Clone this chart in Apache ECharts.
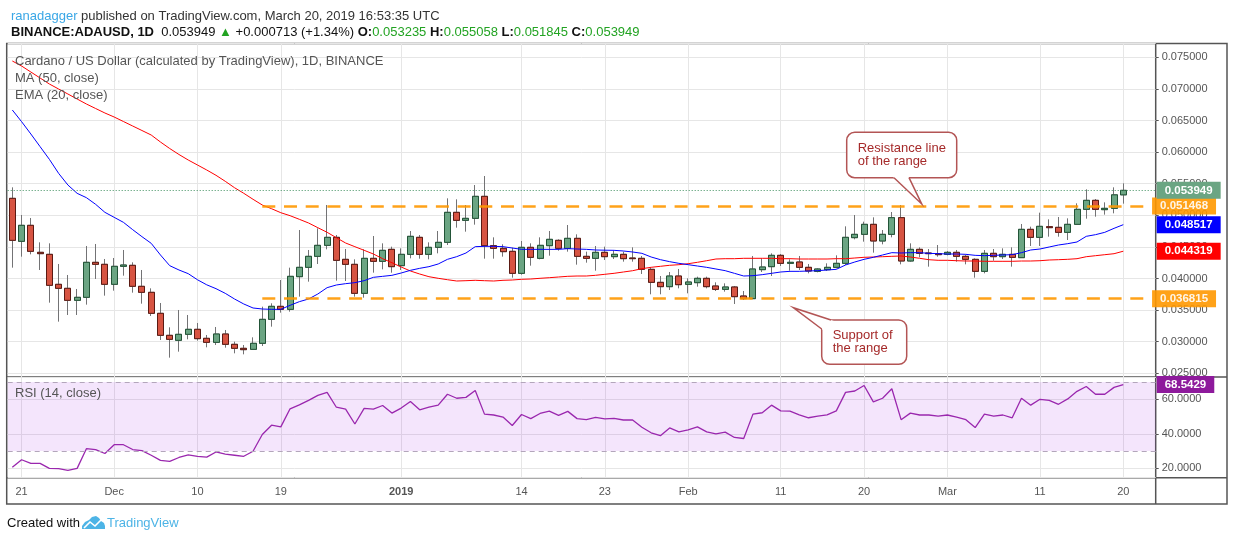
<!DOCTYPE html>
<html>
<head>
<meta charset="utf-8">
<script src="https://cdn.jsdelivr.net/npm/echarts@6.0.0/dist/echarts.min.js"></script>
<style>
html, body { margin: 0; padding: 0; background: #fff; }
#chart { width: 1234px; height: 541px; }
</style>
</head>
<body>
<div id="chart"></div>
<script>
// ADA/USD daily, 2018-11-20 .. 2019-03-20
var openP = [0.052685,0.045884,0.048414,0.044142,0.043825,0.039079,0.038446,0.036547,0.037022,0.042560,
  0.042243,0.039079,0.041927,0.042085,0.038762,0.037813,0.034490,0.031010,0.030218,0.031168,
  0.031959,0.030534,0.029901,0.031220,0.029585,0.028952,0.028793,0.029743,0.033540,0.035597,
  0.035122,0.040291,0.041768,0.043508,0.045248,0.046514,0.043033,0.042242,0.037654,0.043191,
  0.042717,0.044615,0.042031,0.043824,0.046514,0.043824,0.044932,0.045723,0.050470,0.049204,
  0.049520,0.053001,0.045196,0.044774,0.044299,0.040818,0.044932,0.043191,0.045196,0.046039,
  0.044774,0.046356,0.043508,0.043191,0.044141,0.043455,0.043824,0.043244,0.043191,0.041451,
  0.039394,0.038709,0.040396,0.039078,0.039341,0.040027,0.038814,0.038287,0.038656,0.037232,
  0.036810,0.041398,0.041873,0.043666,0.042401,0.042612,0.041768,0.041135,0.041398,0.041768,
  0.042401,0.046461,0.046989,0.048571,0.045934,0.046989,0.049626,0.042770,0.044615,0.044035,
  0.043930,0.043824,0.044141,0.043508,0.043033,0.041135,0.043983,0.043455,0.043824,0.043297,
  0.047780,0.046514,0.048202,0.048097,0.047305,0.048571,0.050944,0.052368,0.050892,0.051102,
  0.053235];
var highP = [0.054425,0.050049,0.049574,0.045724,0.045566,0.042296,0.040555,0.038340,0.045144,0.045460,
  0.043087,0.043245,0.044511,0.042560,0.041347,0.038446,0.036125,0.032275,0.035018,0.034227,
  0.032961,0.031062,0.032327,0.031852,0.030006,0.029479,0.030692,0.035544,0.036072,0.039763,
  0.041715,0.047674,0.044510,0.047938,0.051630,0.046883,0.044668,0.043033,0.044615,0.046725,
  0.045565,0.045037,0.044774,0.047516,0.046883,0.045723,0.047516,0.052685,0.052526,0.051630,
  0.054794,0.056218,0.046514,0.045407,0.044879,0.045934,0.045565,0.046514,0.047516,0.046198,
  0.048465,0.046989,0.044246,0.045143,0.045037,0.044405,0.044246,0.044932,0.043561,0.041768,
  0.040396,0.041029,0.041504,0.040027,0.040290,0.040290,0.039394,0.039236,0.038814,0.038023,
  0.043561,0.043191,0.043983,0.043877,0.043033,0.043561,0.042295,0.041609,0.042401,0.043666,
  0.048255,0.050048,0.048993,0.049679,0.047674,0.050522,0.051630,0.045565,0.044932,0.044668,
  0.045301,0.044352,0.044510,0.043719,0.043191,0.044510,0.044668,0.044774,0.044932,0.048624,
  0.048202,0.050417,0.049362,0.049731,0.049520,0.051894,0.054109,0.052579,0.052052,0.054425,
  0.055058];
var lowP = [0.041714,0.043456,0.043825,0.041347,0.036178,0.033172,0.034227,0.034227,0.035862,0.039923,
  0.037286,0.038077,0.040450,0.037760,0.036020,0.034068,0.030271,0.027476,0.028425,0.030377,
  0.030166,0.029111,0.029479,0.029057,0.028161,0.028002,0.028688,0.029321,0.032380,0.034595,
  0.034753,0.037126,0.039500,0.042295,0.044615,0.039658,0.039605,0.037126,0.036968,0.040924,
  0.041451,0.040924,0.041346,0.043191,0.043139,0.043033,0.043983,0.045301,0.048044,0.047411,
  0.048518,0.043139,0.043139,0.043455,0.040132,0.040600,0.042031,0.043033,0.043613,0.044405,
  0.044246,0.042189,0.042506,0.041240,0.042928,0.043086,0.042664,0.042664,0.040713,0.037496,
  0.037496,0.038181,0.038445,0.037654,0.038709,0.038445,0.038023,0.037918,0.035966,0.036599,
  0.036810,0.041029,0.040396,0.041978,0.041240,0.041346,0.040818,0.040976,0.041188,0.041609,
  0.042137,0.046198,0.045828,0.044088,0.045407,0.046514,0.042242,0.042664,0.043350,0.041873,
  0.043455,0.043666,0.042664,0.042242,0.040132,0.040818,0.042823,0.043086,0.041873,0.043297,
  0.045143,0.045143,0.046619,0.046619,0.046092,0.048465,0.049467,0.049784,0.050101,0.050312,
  0.051845];
var closeP = [0.046039,0.048414,0.044300,0.043931,0.038921,0.038446,0.036547,0.037022,0.042560,0.042243,
  0.039079,0.041927,0.042138,0.038762,0.037813,0.034490,0.031010,0.030377,0.031168,0.031959,
  0.030482,0.029901,0.031220,0.029585,0.028952,0.028741,0.029743,0.033540,0.035597,0.035122,
  0.040344,0.041768,0.043508,0.045248,0.046514,0.042875,0.042242,0.037654,0.043191,0.042717,
  0.044457,0.041873,0.043824,0.046672,0.043824,0.044932,0.045723,0.050470,0.049204,0.049520,
  0.053001,0.045196,0.044774,0.044246,0.040818,0.044932,0.043350,0.045248,0.046198,0.044774,
  0.046356,0.043508,0.043191,0.044141,0.043455,0.043824,0.043139,0.043139,0.041451,0.039394,
  0.038709,0.040396,0.039025,0.039447,0.040027,0.038709,0.038287,0.038656,0.037126,0.036810,
  0.041504,0.041821,0.043666,0.042401,0.042560,0.041768,0.041188,0.041504,0.041768,0.042401,
  0.046514,0.046989,0.048571,0.045934,0.046989,0.049626,0.042770,0.044615,0.043983,0.043930,
  0.043771,0.044141,0.043508,0.043033,0.041135,0.043983,0.043455,0.043824,0.043350,0.047780,
  0.046514,0.048255,0.048044,0.047305,0.048571,0.050944,0.052368,0.050944,0.051102,0.053236,
  0.053949];
var ma50 = [0.074415,0.073623,0.072674,0.071725,0.070775,0.069984,0.069193,0.068402,0.067611,0.066899,
  0.066187,0.065554,0.064842,0.064130,0.063418,0.062706,0.061598,0.060570,0.059620,0.058750,
  0.057959,0.057168,0.056329,0.055380,0.054367,0.053481,0.052532,0.051630,0.051044,0.050411,
  0.049937,0.049367,0.048782,0.048038,0.047310,0.046456,0.045617,0.045032,0.044462,0.043877,
  0.043133,0.042500,0.041820,0.041187,0.040712,0.040285,0.040032,0.039810,0.039604,0.039652,
  0.039715,0.039652,0.039604,0.039715,0.039763,0.039873,0.039921,0.040032,0.040127,0.040237,
  0.040348,0.040396,0.040396,0.040506,0.040665,0.040823,0.041028,0.041234,0.041551,0.041772,
  0.041930,0.042089,0.042184,0.042342,0.042563,0.042816,0.043085,0.043133,0.043133,0.043196,
  0.043196,0.043196,0.043196,0.043133,0.043133,0.043085,0.043085,0.043085,0.043085,0.043133,
  0.043133,0.043244,0.043354,0.043402,0.043449,0.043513,0.043560,0.043402,0.043196,0.042975,
  0.042880,0.042880,0.042816,0.042769,0.042769,0.042722,0.042722,0.042722,0.042722,0.042769,
  0.042769,0.042816,0.042927,0.042975,0.043038,0.043133,0.043449,0.043608,0.043766,0.043924,
  0.044319];
var ema20 = [0.066662,0.064816,0.062865,0.060860,0.058856,0.056641,0.054795,0.053477,0.052791,0.051736,
  0.050470,0.049679,0.048888,0.047728,0.046620,0.045566,0.043720,0.042032,0.041347,0.040766,
  0.039800,0.039000,0.038392,0.037654,0.036757,0.035966,0.035333,0.035174,0.035122,0.035122,
  0.035755,0.036335,0.036757,0.037548,0.038550,0.038972,0.039183,0.039341,0.039658,0.040185,
  0.040344,0.040502,0.040870,0.041293,0.041609,0.041873,0.042295,0.043033,0.043455,0.044035,
  0.045037,0.045090,0.045090,0.045037,0.044826,0.044615,0.044615,0.044615,0.044615,0.044615,
  0.044721,0.044668,0.044615,0.044510,0.044480,0.044457,0.044352,0.044194,0.043983,0.043403,
  0.042981,0.042664,0.042401,0.042190,0.041978,0.041768,0.041504,0.041240,0.040818,0.040396,
  0.040449,0.040607,0.040818,0.041029,0.041135,0.041135,0.041188,0.041240,0.041346,0.041451,
  0.042137,0.042612,0.043033,0.043350,0.043719,0.044088,0.044035,0.044088,0.044088,0.043983,
  0.043930,0.043877,0.043877,0.043824,0.043666,0.043613,0.043666,0.043719,0.043771,0.044088,
  0.044510,0.044668,0.044985,0.045301,0.045512,0.045776,0.046672,0.046936,0.047305,0.047938,
  0.048517];
var rsi14 = [20.6,25.0,22.9,22.9,20.0,19.8,18.9,20.0,31.4,30.9,
  28.6,33.7,33.7,30.9,30.3,27.6,24.6,24.0,26.3,27.8,
  27.0,26.5,29.5,28.2,27.6,27.0,29.9,39.6,45.0,44.0,
  54.5,56.8,59.4,62.3,64.0,55.4,54.3,45.7,54.7,54.3,
  56.4,52.0,54.9,58.7,53.9,55.4,56.6,62.9,60.6,61.1,
  65.1,51.4,50.9,49.7,44.8,51.2,48.8,51.8,53.1,50.7,
  53.0,48.8,48.2,49.5,48.7,49.0,48.0,48.0,43.8,40.6,
  38.9,43.4,41.1,42.3,44.0,41.1,40.0,41.0,37.9,37.3,
  51.4,52.2,56.6,53.3,53.1,51.0,49.3,50.3,51.0,53.3,
  64.0,64.8,68.0,58.5,60.6,66.1,48.2,52.0,50.9,50.9,
  50.3,50.9,49.7,48.2,43.6,51.4,50.3,50.9,49.3,60.6,
  56.6,60.0,59.4,57.1,60.2,64.6,67.4,62.9,62.9,66.9,
  68.5429];

var tickDates = ['2018-11-21','2018-12-01','2018-12-10','2018-12-19','2019-01-01','2019-01-14',
  '2019-01-23','2019-02-01','2019-02-11','2019-02-20','2019-03-01','2019-03-11','2019-03-20'];
var tickText = ['21','Dec','10','19','2019','14','23','Feb','11','20','Mar','11','20'];

var resistance = 0.051468;
var support = 0.036815;
var lastPrice = 0.053949;

// 121 trading days plus 3 empty days on the right
var dates = [];
for (var i = 0; i < 124; i++) {
  dates.push(new Date(Date.UTC(2018, 10, 20 + i)).toISOString().slice(0, 10));
}

var candleFull = openP.map(function (o, i) { return [o, closeP[i], lowP[i], highP[i]]; });
var candleBody = openP.map(function (o, i) {
  var c = closeP[i];
  return [o, c, Math.min(o, c), Math.max(o, c)];
});

var FONT = '"Liberation Sans", Arial, sans-serif';
var NOLINE = { color: 'rgba(0,0,0,0)', width: 0 };
var isTick = function (idx, val) { return tickDates.indexOf(val) >= 0; };

function tag(bg, text) {
  return {
    show: true, position: 'end', distance: 1, formatter: text,
    backgroundColor: bg, color: '#fff', fontWeight: 'bold', fontSize: 11.5,
    fontFamily: FONT, padding: [3, 8, 2, 8], lineHeight: 12
  };
}

var option = {
  animation: false,
  textStyle: { fontFamily: FONT },
  title: [{
    left: 6, top: 5,
    text: '{u|ranadagger}{t| published on TradingView.com, March 20, 2019 16:53:35 UTC}',
    textStyle: { fontWeight: 'normal', rich: {
      u: { color: '#3aa7e6', fontSize: 13, fontWeight: 'normal', fontFamily: FONT },
      t: { color: '#333', fontSize: 13, fontWeight: 'normal', fontFamily: FONT }
    } }
  }, {
    left: 6, top: 21,
    text: '{b|BINANCE:ADAUSD, 1D}{t|  0.053949 }{g|▲}{t| +0.000713 (+1.34%) }{b|O:}{g|0.053235}{t| }{b|H:}{g|0.055058}{t| }{b|L:}{g|0.051845}{t| }{b|C:}{g|0.053949}',
    textStyle: { fontWeight: 'normal', rich: {
      b: { color: '#111', fontSize: 13, fontWeight: 'bold', fontFamily: FONT },
      t: { color: '#111', fontSize: 13, fontWeight: 'normal', fontFamily: FONT },
      g: { color: '#22a322', fontSize: 13, fontWeight: 'normal', fontFamily: FONT }
    } }
  }],
  grid: [
    { left: 7.7, width: 1148, top: 43.5, height: 333.5 },
    { left: 7.7, width: 1148, top: 377, height: 100.7 }
  ],
  xAxis: [{
    gridIndex: 0, type: 'category', data: dates, boundaryGap: true,
    axisLine: { show: false }, axisTick: { show: false }, axisLabel: { show: false },
    splitLine: { show: true, interval: isTick, alignWithLabel: true, lineStyle: { color: '#e6e6e6' } }
  }, {
    gridIndex: 1, type: 'category', data: dates, boundaryGap: true,
    axisLine: { show: false }, axisTick: { show: false },
    axisLabel: {
      interval: isTick, margin: 9, color: '#555', fontSize: 11,
      formatter: function (v) {
        var t = tickText[tickDates.indexOf(v)];
        return t === '2019' ? '{b|2019}' : t;
      },
      rich: { b: { fontWeight: 'bold', color: '#555', fontSize: 11 } }
    },
    splitLine: { show: true, interval: isTick, alignWithLabel: true, lineStyle: { color: '#e6e6e6' } }
  }],
  yAxis: [{
    gridIndex: 0, position: 'right', scale: true,
    min: 0.024415, max: 0.077184, splitNumber: 10,
    axisLine: { show: false },
    axisTick: { show: true, length: 3, lineStyle: { color: '#555' } },
    axisLabel: {
      margin: 6, color: '#555', fontSize: 11, showMinLabel: false, showMaxLabel: false,
      formatter: function (v) { return v.toFixed(6); }
    },
    splitLine: { lineStyle: { color: '#e6e6e6' } }
  }, {
    gridIndex: 1, position: 'right',
    min: 14.6, max: 72.9, splitNumber: 3,
    axisLine: { show: false },
    axisTick: { show: true, length: 3, lineStyle: { color: '#555' } },
    axisLabel: {
      margin: 6, color: '#555', fontSize: 11, showMinLabel: false, showMaxLabel: false,
      formatter: function (v) { return v.toFixed(4); }
    },
    splitLine: { lineStyle: { color: '#e6e6e6' } }
  }],
  series: [{
    // wicks (gray)
    name: 'wick', type: 'candlestick', xAxisIndex: 0, yAxisIndex: 0,
    data: candleFull, barWidth: 6.5, silent: true,
    itemStyle: { color: '#737375', color0: '#737375', borderColor: '#737375', borderColor0: '#737375', borderWidth: 1 },
    markLine: {
      silent: true, symbol: ['none', 'none'], precision: 6,
      data: [
        [{ coord: [dates[27], resistance], lineStyle: { color: '#ff9800', type: [13, 8.7], width: 2.6, opacity: 0.9 }, label: tag('#ff9800', resistance.toFixed(6)) },
         { coord: [dates[123], resistance] }],
        [{ coord: [dates[27], support], lineStyle: { color: '#ff9800', type: [13, 8.7], width: 2.6, opacity: 0.9 }, label: tag('#ff9800', support.toFixed(6)) },
         { coord: [dates[123], support] }]
      ]
    }
  }, {
    // bodies
    name: 'body', type: 'candlestick', xAxisIndex: 0, yAxisIndex: 0,
    data: candleBody, barWidth: 6.5, silent: true,
    itemStyle: { color: '#6ba583', color0: '#d75442', borderColor: '#225437', borderColor0: '#5b1a13', borderWidth: 1 }
  }, {
    name: 'MA (50, close)', type: 'line', xAxisIndex: 0, yAxisIndex: 0,
    data: ma50, showSymbol: false, silent: true,
    lineStyle: { color: '#ff0000', width: 1 },
    markLine: {
      silent: true, symbol: ['none', 'none'], precision: 6,
      data: [
        { yAxis: lastPrice, lineStyle: { color: '#3f8f5f', type: [1, 2], width: 1 }, label: tag('#6ba583', lastPrice.toFixed(6)) },
        { yAxis: ma50[ma50.length - 1], lineStyle: NOLINE, label: tag('#ff0000', ma50[ma50.length - 1].toFixed(6)) }
      ]
    }
  }, {
    name: 'EMA (20, close)', type: 'line', xAxisIndex: 0, yAxisIndex: 0,
    data: ema20, showSymbol: false, silent: true,
    lineStyle: { color: '#0000ff', width: 1 },
    markLine: {
      silent: true, symbol: ['none', 'none'], precision: 6,
      data: [{ yAxis: ema20[ema20.length - 1], lineStyle: NOLINE, label: tag('#0000ff', ema20[ema20.length - 1].toFixed(6)) }]
    }
  }, {
    name: 'RSI (14, close)', type: 'line', xAxisIndex: 1, yAxisIndex: 1,
    data: rsi14, showSymbol: false, silent: true,
    lineStyle: { color: '#9a27ae', width: 1.3 },
    markArea: {
      silent: true,
      itemStyle: { color: 'rgba(145, 0, 225, 0.1)' },
      data: [[{ yAxis: 30 }, { yAxis: 70 }]]
    },
    markLine: {
      silent: true, symbol: ['none', 'none'], precision: 4,
      label: { show: false },
      lineStyle: { color: '#b3a6bb', type: [5, 4], width: 1 },
      data: [
        { yAxis: 30 }, { yAxis: 70 },
        { yAxis: rsi14[rsi14.length - 1], lineStyle: NOLINE, label: tag('#8e1a9c', rsi14[rsi14.length - 1].toFixed(4)) }
      ]
    }
  }],
  graphic: [
    // frame
    { type: 'rect', silent: true, shape: { x: 6.7, y: 43.5, width: 1220.3, height: 460.5 }, style: { fill: null, stroke: '#555', lineWidth: 1.5 } },
    { type: 'line', silent: true, shape: { x1: 1155.7, y1: 43.5, x2: 1155.7, y2: 504 }, style: { stroke: '#555', lineWidth: 1.5 } },
    { type: 'line', silent: true, shape: { x1: 6.7, y1: 377, x2: 1227, y2: 377 }, style: { stroke: '#555', lineWidth: 1.5 } },
    { type: 'line', silent: true, shape: { x1: 6.7, y1: 477.7, x2: 1227, y2: 477.7 }, style: { stroke: '#555', lineWidth: 1.5 } },
    // legends
    { type: 'text', x: 15, y: 61, z: 50, style: { text: 'Cardano / US Dollar (calculated by TradingView), 1D, BINANCE', fill: '#555', font: '13px ' + FONT, verticalAlign: 'middle' } },
    { type: 'text', x: 15, y: 78, z: 50, style: { text: 'MA (50, close)', fill: '#555', font: '13px ' + FONT, verticalAlign: 'middle' } },
    { type: 'text', x: 15, y: 95, z: 50, style: { text: 'EMA (20, close)', fill: '#555', font: '13px ' + FONT, verticalAlign: 'middle' } },
    { type: 'text', x: 15, y: 393, z: 50, style: { text: 'RSI (14, close)', fill: '#555', font: '13px ' + FONT, verticalAlign: 'middle' } },
    // resistance callout
    { type: 'rect', z: 60, shape: { x: 846.7, y: 132.3, width: 110, height: 45.4, r: 8 }, style: { fill: '#fff', stroke: '#b35555', lineWidth: 1.5 } },
    { type: 'polygon', z: 61, shape: { points: [[890.8, 174.7], [921.7, 204], [907.6, 174.7]] }, style: { fill: '#fff' } },
    { type: 'polyline', z: 62, shape: { points: [[894, 177.7], [921.7, 204], [909, 177.7]] }, style: { fill: null, stroke: '#b35555', lineWidth: 1.5 } },
    { type: 'text', x: 857.7, y: 148.5, z: 63, style: { text: 'Resistance line', fill: '#a52a2a', font: '13px ' + FONT, verticalAlign: 'middle' } },
    { type: 'text', x: 857.7, y: 161, z: 63, style: { text: 'of the range', fill: '#a52a2a', font: '13px ' + FONT, verticalAlign: 'middle' } },
    // support callout
    { type: 'rect', z: 60, shape: { x: 821.7, y: 320, width: 85, height: 44.3, r: 8 }, style: { fill: '#fff', stroke: '#b35555', lineWidth: 1.5 } },
    { type: 'polygon', z: 61, shape: { points: [[793.3, 307.7], [824.1, 330.8], [833.9, 320.9]] }, style: { fill: '#fff' } },
    { type: 'polyline', z: 62, shape: { points: [[821.7, 329], [793.3, 307.7], [831, 320]] }, style: { fill: null, stroke: '#b35555', lineWidth: 1.5 } },
    { type: 'text', x: 832.7, y: 335.5, z: 63, style: { text: 'Support of', fill: '#a52a2a', font: '13px ' + FONT, verticalAlign: 'middle' } },
    { type: 'text', x: 832.7, y: 348, z: 63, style: { text: 'the range', fill: '#a52a2a', font: '13px ' + FONT, verticalAlign: 'middle' } },
    // footer
    { type: 'text', x: 7, y: 523, style: { text: 'Created with', fill: '#111', font: '13px ' + FONT, verticalAlign: 'middle' } },
    { type: 'polygon', silent: true, shape: { points: [[82, 529], [82, 526], [85, 522], [89, 520], [92, 517], [96, 516], [99, 518], [101, 521], [104, 523], [105, 526], [105, 529]] }, style: { fill: '#4db4e6' } },
    { type: 'polyline', silent: true, shape: { points: [[84, 528], [90, 522], [95, 526], [101, 520]] }, style: { fill: null, stroke: '#fff', lineWidth: 1.6 } },
    { type: 'text', x: 107, y: 523, style: { text: 'TradingView', fill: '#4db4e6', font: '13px ' + FONT, verticalAlign: 'middle' } }
  ]
};

var chart = echarts.init(document.getElementById('chart'));
chart.setOption(option);
</script>
</body>
</html>
